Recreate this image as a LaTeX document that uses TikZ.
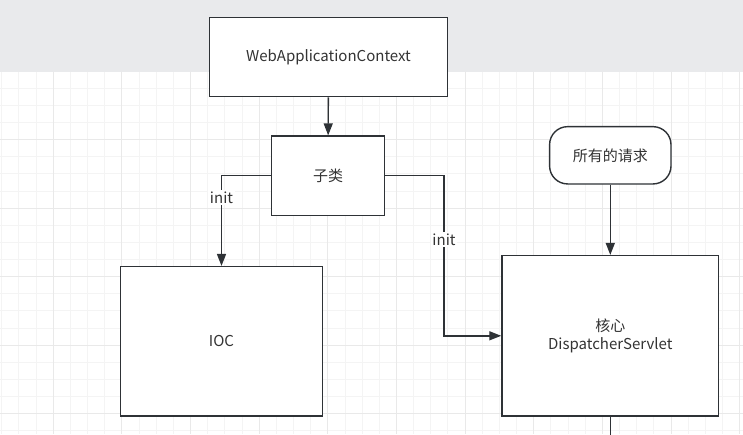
\documentclass[tikz,border=0pt]{standalone}
\usepackage{fontspec}
\setmainfont{Noto Sans CJK SC}
\usetikzlibrary{arrows.meta}
\definecolor{band}{RGB}{233,234,236}
\definecolor{gridminor}{RGB}{244,244,244}
\definecolor{gridmajor}{RGB}{233,233,233}
\definecolor{stroke}{RGB}{46,50,54}
\definecolor{txt}{RGB}{51,51,51}
\tikzset{
  box/.style={draw=stroke, line width=1.4pt, fill=white, inner sep=0pt, text=txt,
    font=\fontsize{15}{18}\selectfont, align=center},
  pill/.style={box, rounded corners=18pt},
  conn/.style={draw=stroke, line width=1.4pt},
  arr/.style={conn, -{Triangle[width=9pt,length=12pt]}},
  lbl/.style={fill=white, inner sep=1.5pt, text=txt, font=\fontsize{15}{17}\selectfont},
  gmin/.style={draw=gridminor, line width=1pt},
  gmaj/.style={draw=gridmajor, line width=1pt}
}
\begin{document}
\begin{tikzpicture}[x=1pt,y=-1pt]
\useasboundingbox (0,0) rectangle (743,434);
% background
\fill[band] (0,0) rectangle (743,71.7);
\foreach \k in {-3,...,40} \draw[gmin] ({53.3+17.16*\k},71.7) -- ({53.3+17.16*\k},434);
\foreach \k in {-1,...,19} \draw[gmin] (0,{413.7-17.13*\k}) -- (743,{413.7-17.13*\k});
\foreach \k in {0,...,10} \draw[gmaj] ({53.3+68.64*\k},71.7) -- ({53.3+68.64*\k},434);
\foreach \k in {0,...,4} \draw[gmaj] (0,{413.7-68.52*\k}) -- (743,{413.7-68.52*\k});
% nodes
\node[box, minimum width=238pt, minimum height=79.4pt] (wac) at (328.5,57) {WebApplicationContext};
\node[box, minimum width=112.6pt, minimum height=79.3pt] (sub) at (328,175.7) {子类};
\node[box, minimum width=201.6pt, minimum height=149.3pt] (ioc) at (221.5,341.3) {IOC};
\node[box, minimum width=216.7pt, minimum height=160.3pt] (ds) at (610.3,335.8) {核心\\DispatcherServlet};
\node[pill, minimum width=121.4pt, minimum height=57.3pt] (req) at (610.3,155.3) {所有的请求};
\coordinate (k) at (444,0);
\coordinate (bottom) at (610.3,440);
% connectors
\draw[arr] (wac) -- (sub);
\draw[arr] (sub.west) -| node[lbl, pos=0.62] (l1) {init} (ioc.north);
\draw[arr] (sub.east) -| node[lbl, pos=0.7] (l2) {init} (k |- ds.west) -- (ds.west);
\draw[arr] (req) -- (ds);
\draw[conn] (ds.south) -- (bottom);
\end{tikzpicture}
\end{document}
